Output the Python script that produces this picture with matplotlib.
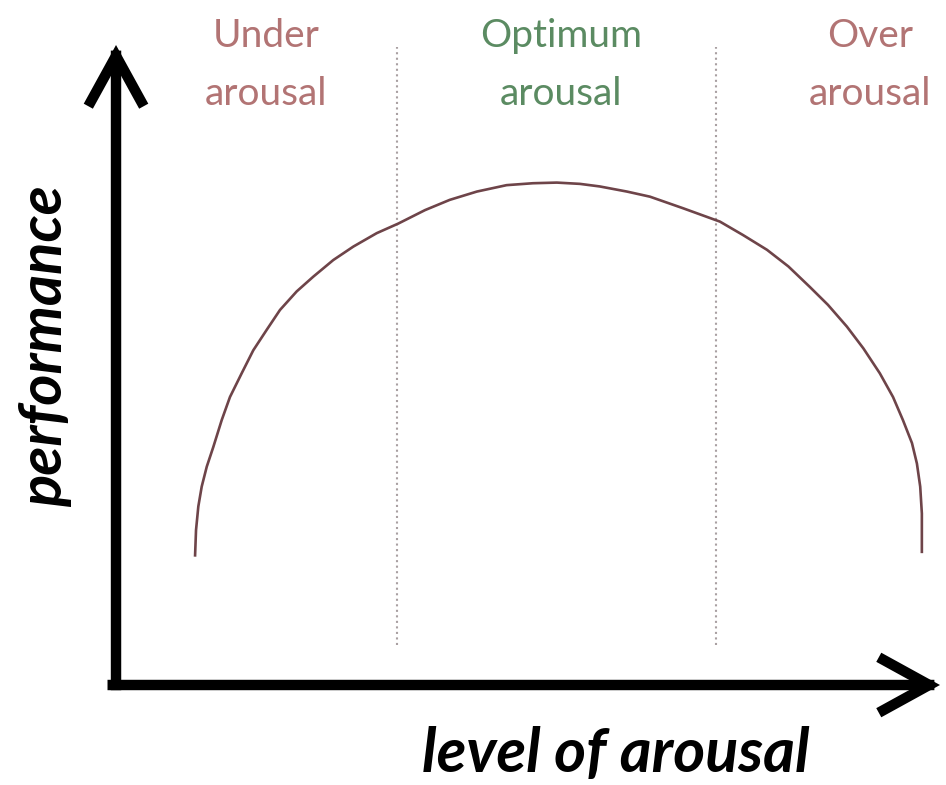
import matplotlib
matplotlib.use("Agg")
import matplotlib.pyplot as plt
from matplotlib.patches import FancyArrowPatch

# 曲線のデータ (覚醒レベル 0-100, パフォーマンス 0-100)
arousal = [9.59, 9.71, 9.99, 10.40, 11.01, 11.81, 12.83, 13.83, 15.25, 16.66, 18.29,
           19.90, 21.93, 23.94, 26.37, 28.80, 31.64, 34.26, 37.5, 40.5, 43.8, 47.4,
           50.6, 53.5, 56.3, 58.7, 62.0, 64.8, 68.8, 73.3, 76.1, 79.0, 81.6, 84.2,
           86.4, 88.7, 90.7, 92.7, 94.3, 95.5, 96.6, 97.2, 97.6, 97.8, 97.8]
performance = [20.05, 24.2, 27.9, 31.0, 34.1, 37.2, 41.4, 45.0, 48.7, 52.3, 55.5,
               58.6, 61.5, 63.8, 66.4, 68.5, 70.6, 72.1, 74.2, 75.8, 77.1, 78.1,
               78.4, 78.5, 78.3, 77.9, 77.1, 76.3, 74.5, 72.4, 70.3, 68.0, 65.4, 62.2,
               59.4, 56.0, 52.6, 48.7, 45.0, 41.4, 37.8, 34.6, 31.0, 26.8, 20.6]

# 区間の境界
boundaries = [34.1, 72.8]
zone_names = ["Under\narousal", "Optimum\narousal", "Over\narousal"]
zone_centers = [18.2, 54.0, 91.5]
zone_colors = ["#b27474", "#5b8b62", "#b27474"]

fig = plt.figure(figsize=(9.46, 7.85), dpi=100)
ax = fig.add_axes([0, 0, 1, 1])
ax.set_xlim(-14.08, 100.73)
ax.set_ylim(-15.625, 107.03)
ax.axis("off")

# 境界の点線
for b in boundaries:
    ax.plot([b, b], [6.25, 99.7], color="#a9a0a2", lw=1.5, ls=":")

# 曲線
ax.plot(arousal, performance, color="#6e4449", lw=1.9, solid_capstyle="butt",
        solid_joinstyle="round")

# 軸の矢印
arrow_kw = dict(arrowstyle="->,head_length=1.0,head_width=0.55", mutation_scale=33,
                lw=7.5, color="black", joinstyle="miter", capstyle="projecting",
                shrinkA=0, shrinkB=0)
ax.add_patch(FancyArrowPatch((0, 0), (0, 100), **arrow_kw))
ax.add_patch(FancyArrowPatch((-0.4, 0), (100, 0), **arrow_kw))

# 区間のラベル
for name, cx, c in zip(zone_names, zone_centers, zone_colors):
    ax.text(cx, 96.9, name, ha="center", va="center", color=c, fontsize=28,
            family="Lato", linespacing=1.78, multialignment="center")

# 軸ラベル
ax.text(-8.6, 53, "performance", rotation=90, ha="center", va="center",
        fontsize=43, family="Lato", fontweight="bold", fontstyle="italic")
ax.text(60.6, -10.8, "level of arousal", ha="center", va="center",
        fontsize=44, family="Lato", fontweight="bold", fontstyle="italic")

fig.savefig("out.png", dpi=100, facecolor="white")
